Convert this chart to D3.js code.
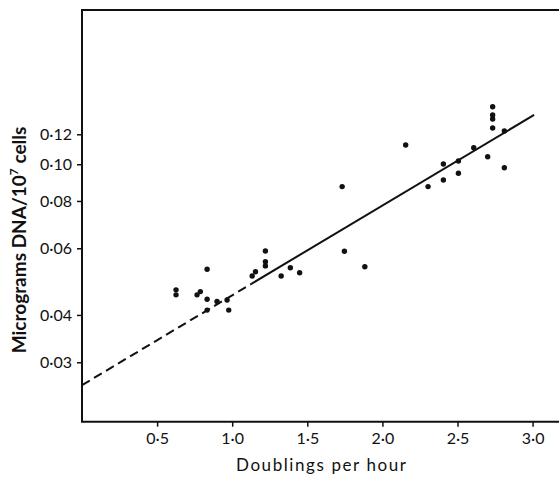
<!DOCTYPE html>
<html>
<head>
<meta charset="utf-8">
<script src="https://cdn.jsdelivr.net/npm/d3@7"></script>
<style>
  body { margin: 0; background: #fff; }
  svg { display: block; }
  text { font-family: Lato, "Open Sans", sans-serif; fill: #111; }
</style>
</head>
<body>
<svg id="chart" width="559" height="478"></svg>
<script>
// growth rate (doublings/h) vs DNA per 10^7 cells
var rate = [0.626, 0.626, 0.766, 0.788, 0.833, 0.833, 0.833, 0.899, 0.966, 0.977,
            1.133, 1.155, 1.221, 1.221, 1.221, 1.326, 1.387, 1.449, 1.747, 1.732,
            1.883, 2.155, 2.304, 2.406, 2.406, 2.506, 2.506, 2.608, 2.701,
            2.734, 2.734, 2.734, 2.734, 2.812, 2.812];
var dna  = [0.0466, 0.0452, 0.0452, 0.0461, 0.0528, 0.0440, 0.0412, 0.0434, 0.0438, 0.0412,
            0.0507, 0.0520, 0.0590, 0.0553, 0.0539, 0.0507, 0.0533, 0.0517, 0.0589, 0.0873,
            0.0536, 0.1124, 0.0873, 0.0909, 0.1002, 0.0947, 0.1020, 0.1106, 0.1047,
            0.1419, 0.1349, 0.1317, 0.1247, 0.1224, 0.0979];

// fitted line: dashed part (extrapolated) then solid part
var fitDashed = [[0, 0.0261], [1.13, 0.0484]];
var fitSolid  = [[1.13, 0.0484], [3.01, 0.135]];

var xTicks = [0.5, 1.0, 1.5, 2.0, 2.5, 3.0];
var yTicks = [0.03, 0.04, 0.06, 0.08, 0.10, 0.12];

var svg = d3.select("#chart");
var mLeft = 82, mTop = 10, mBottom = 421.7, mRight = 560;

var x = d3.scaleLinear().domain([0, 3.18]).range([mLeft, mLeft + 3.18 * 150.2]);
var y = d3.scaleLog().domain([0.0209, 0.2555]).range([mBottom, mTop]);

function fmt(v, n) { return v.toFixed(n).replace(".", "\u00b7"); }

// frame (right side runs off the page)
svg.append("path")
  .attr("d", "M" + mRight + "," + mTop + "H" + mLeft + "V" + mBottom + "H" + mRight)
  .style("fill", "none")
  .style("stroke", "#111")
  .style("stroke-width", 2);

// y axis
var yAxis = d3.axisLeft(y).tickValues(yTicks).tickSize(5).tickPadding(5)
  .tickFormat(function(d) { return fmt(d, 2); });
var gy = svg.append("g").attr("transform", "translate(" + mLeft + ",0)").call(yAxis);
gy.select(".domain").remove();
gy.selectAll("line").style("stroke", "#111").style("stroke-width", 1.5);
gy.selectAll("text").style("font-size", "16px").style("font-family", "Lato, sans-serif");

// x axis
var xAxis = d3.axisBottom(x).tickValues(xTicks).tickSize(5).tickPadding(6)
  .tickFormat(function(d) { return fmt(d, 1); });
var gx = svg.append("g").attr("transform", "translate(0," + mBottom + ")").call(xAxis);
gx.select(".domain").remove();
gx.selectAll("line").style("stroke", "#111").style("stroke-width", 1.5);
gx.selectAll("text").style("font-size", "16px").style("font-family", "Lato, sans-serif");

// axis titles
svg.append("text")
  .attr("x", 321).attr("y", 471)
  .attr("text-anchor", "middle")
  .attr("textLength", 170)
  .style("font-size", "17px")
  .text("Doublings per hour");

var yt = svg.append("text")
  .attr("transform", "translate(26,240) rotate(-90)")
  .attr("text-anchor", "middle")
  .style("font-size", "19px")
  .style("font-weight", "bold");
yt.append("tspan").text("Micrograms DNA/10");
yt.append("tspan").attr("dy", -8).style("font-size", "12px").text("7");
yt.append("tspan").attr("dy", 8).text(" cells");

// fitted line
var line = d3.line()
  .x(function(d) { return x(d[0]); })
  .y(function(d) { return y(d[1]); });

svg.append("path").datum(fitDashed)
  .attr("d", line)
  .style("fill", "none").style("stroke", "#111")
  .style("stroke-width", 2).style("stroke-dasharray", "9,5");
svg.append("path").datum(fitSolid)
  .attr("d", line)
  .style("fill", "none").style("stroke", "#111")
  .style("stroke-width", 2);

// points
svg.selectAll("circle.pt")
  .data(d3.range(rate.length))
  .enter().append("circle")
  .attr("class", "pt")
  .attr("cx", function(i) { return x(rate[i]); })
  .attr("cy", function(i) { return y(dna[i]); })
  .attr("r", 2.7)
  .style("fill", "#111");
</script>
</body>
</html>
